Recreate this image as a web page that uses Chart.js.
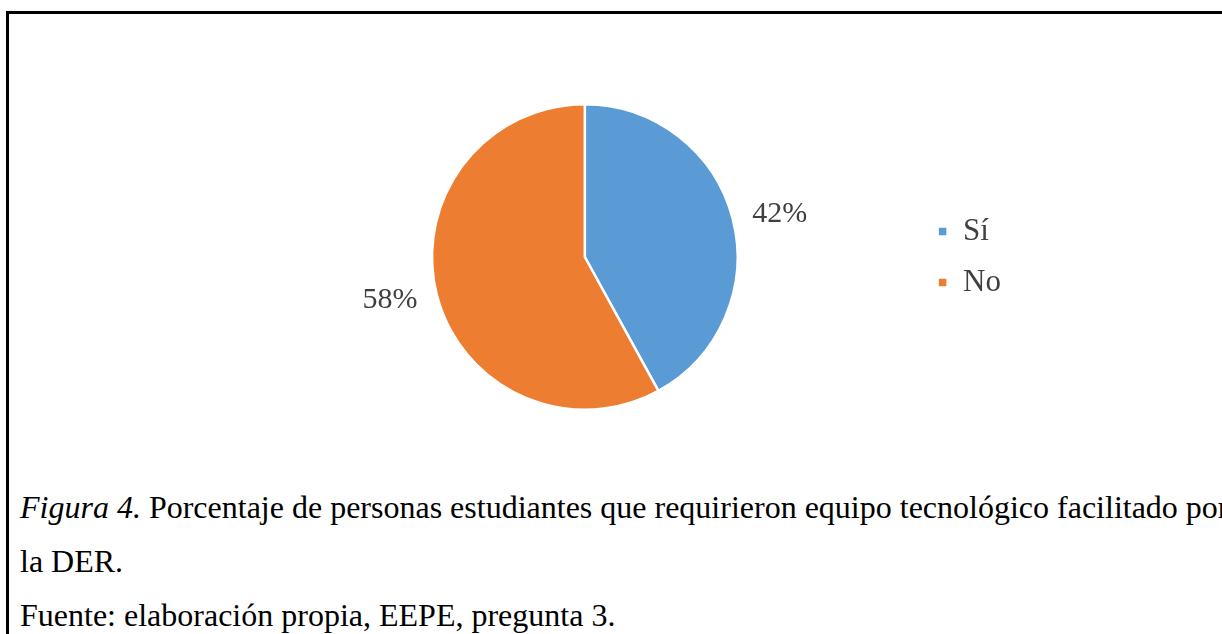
<!DOCTYPE html>
<html>
<head>
<meta charset="utf-8">
<script src="https://cdn.jsdelivr.net/npm/chart.js@4.4.1/dist/chart.umd.min.js"></script>
<style>
  html, body { margin: 0; padding: 0; background: #fff; overflow: hidden; width: 1222px; height: 634px; }
  #frame { position: absolute; left: 6px; top: 11px; width: 1400px; height: 800px; border-top: 3px solid #000; border-left: 3px solid #000; }
  #chart { position: absolute; left: 0; top: 0; }
  #caption { position: absolute; left: 20px; top: 480px; font-family: 'Liberation Serif', 'Times New Roman', serif; font-size: 32px; line-height: 54px; color: #000; white-space: nowrap; }
</style>
</head>
<body>
<div id="frame"></div>
<canvas id="chart" width="1222" height="460"></canvas>
<div id="caption">
  <div><i>Figura 4.</i> Porcentaje de personas estudiantes que requirieron equipo tecnológico facilitado por</div>
  <div>la DER.</div>
  <div>Fuente: elaboración propia, EEPE, pregunta 3.</div>
</div>
<script>
$ready = function(){

	// Pie - equipo tecnologico
	var labels = ['Sí', 'No'];
	var values = [42, 58];
	var colors = ['#5B9BD5', '#ED7D31'];

	var serif = "'Liberation Serif', 'Times New Roman', serif";

	// percent labels outside each slice
	var outsideLabels = {
		id: 'outsideLabels',
		afterDatasetsDraw: function(chart){
			var ctx = chart.ctx;
			var total = values.reduce(function(a, b){ return a + b; }, 0);
			ctx.save();
			ctx.font = '30px ' + serif;
			ctx.fillStyle = '#404040';
			ctx.textAlign = 'center';
			ctx.textBaseline = 'middle';
			chart.getDatasetMeta(0).data.forEach(function(arc, i){
				var p = arc.getProps(['x', 'y', 'startAngle', 'endAngle', 'outerRadius'], true);
				var mid = (p.startAngle + p.endAngle) / 2;
				var txt = Math.round(values[i] / total * 100) + '%';
				var w = ctx.measureText(txt).width;
				var r = p.outerRadius + 21;
				var x = p.x + Math.cos(mid) * r + Math.cos(mid) * w / 2;
				var y = p.y + Math.sin(mid) * r;
				ctx.fillText(txt, x, y);
			});
			ctx.restore();
		}
	};

	var pieData = {
		labels: labels,
		datasets: [{
			data: values,
			backgroundColor: colors,
			borderColor: '#ffffff',
			borderWidth: 2.5
		}]
	};

	var pieOptions = {
		responsive: false,
		animation: false,
		devicePixelRatio: 1,
		layout: {
			padding: { left: 252, right: 211, top: 103, bottom: 49 }
		},
		plugins: {
			legend: {
				display: true,
				position: 'right',
				labels: {
					boxWidth: 10,
					boxHeight: 10,
					padding: 20,
					color: '#404040',
					font: { family: serif, size: 31 }
				}
			},
			tooltip: { enabled: false }
		}
	};

	new Chart(document.getElementById('chart').getContext('2d'), {
		type: 'pie',
		data: pieData,
		options: pieOptions,
		plugins: [outsideLabels]
	});
};
$ready();
</script>
</body>
</html>
